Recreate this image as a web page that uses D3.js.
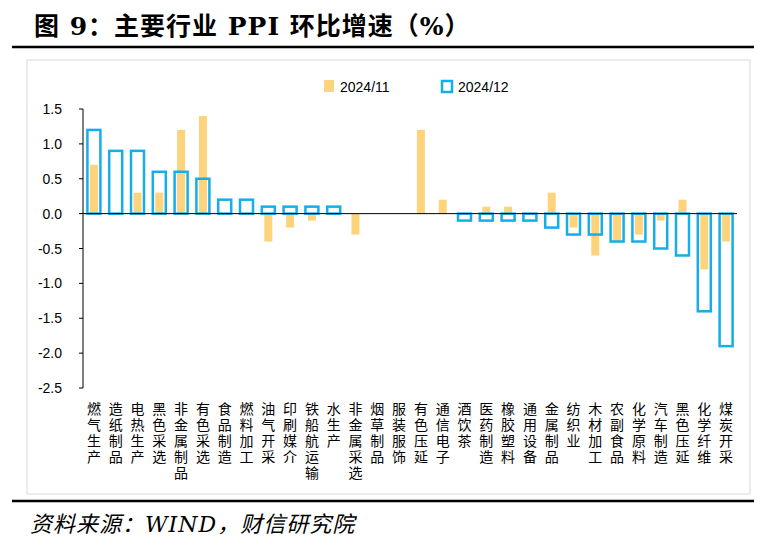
<!DOCTYPE html>
<html><head><meta charset="utf-8">
<script src="https://cdn.jsdelivr.net/npm/d3@7"></script>
<style>body{margin:0;background:#fff}</style>
</head><body>
<script>
// categories and month-on-month PPI values (%)
var categories = ['燃气生产','造纸制品','电热生产','黑色采选','非金属制品','有色采选','食品制造','燃料加工','油气开采','印刷媒介','铁船航运输','水生产','非金属采选','烟草制品','服装服饰','有色压延','通信电子','酒饮茶','医药制造','橡胶塑料','通用设备','金属制品','纺织业','木材加工','农副食品','化学原料','汽车制造','黑色压延','化学纤维','煤炭开采'];
var nov = [0.7,0,0.3,0.3,1.2,1.4,0,0,-0.4,-0.2,-0.1,0,-0.3,0,0,1.2,0.2,0,0.1,0.1,0,0.3,-0.2,-0.6,-0.4,-0.3,-0.1,0.2,-0.8,-0.4];
var dec = [1.2,0.9,0.9,0.6,0.6,0.5,0.2,0.2,0.1,0.1,0.1,0.1,0,0,0,0,0,-0.1,-0.1,-0.1,-0.1,-0.2,-0.3,-0.3,-0.4,-0.4,-0.5,-0.6,-1.4,-1.9];
var yTicks = [1.5,1.0,0.5,0.0,-0.5,-1.0,-1.5,-2.0,-2.5];
var seriesNames = ['2024/11','2024/12'];

var W = 766, H = 546;
var svg = d3.select('body').append('svg').attr('width', W).attr('height', H);
var serif = '"DejaVu Serif","Liberation Serif","Noto Sans CJK SC",serif';

svg.append('text').attr('x', 34).attr('y', 35).attr('font-family', serif)
  .attr('font-weight', 'bold').attr('font-size', 25).attr('letter-spacing', 1).text('图 9：主要行业 PPI 环比增速（%）');
svg.append('line').attr('x1', 12).attr('x2', 754).attr('y1', 47).attr('y2', 47).attr('stroke', '#000').attr('stroke-width', 2.5);
svg.append('line').attr('x1', 12).attr('x2', 754).attr('y1', 501).attr('y2', 501).attr('stroke', '#000').attr('stroke-width', 2.5);
svg.append('rect').attr('x', 27).attr('y', 60).attr('width', 723).attr('height', 434).attr('fill', 'none').attr('stroke', '#d9d9d9');
svg.append('text').attr('x', 30).attr('y', 532).attr('font-family', serif).attr('font-style', 'italic')
  .attr('font-size', 22).attr('letter-spacing', 1).text('资料来源：WIND，财信研究院');

var x = d3.scaleBand().domain(categories).range([83, 737]).paddingInner(0);
var y = d3.scaleLinear().domain([-2.5, 1.5]).range([388, 109]);

var g = svg.append('g');
g.append('line').attr('x1', 83).attr('x2', 83).attr('y1', y(1.5)).attr('y2', y(-2.5)).attr('stroke', '#000');
yTicks.forEach(function (t) {
  g.append('line').attr('x1', 79).attr('x2', 83).attr('y1', y(t)).attr('y2', y(t)).attr('stroke', '#000');
  g.append('text').attr('x', 62).attr('y', y(t) + 5).attr('text-anchor', 'end')
    .attr('font-family', '"Liberation Sans",Arial,sans-serif').attr('font-size', 14).text(t.toFixed(1));
});

var bw = x.bandwidth();
g.selectAll('.nov').data(nov).enter().append('rect')
  .attr('x', function (d, i) { return x(categories[i]) + bw / 2 - 4; })
  .attr('width', 8)
  .attr('y', function (d) { return y(Math.max(0, d)); })
  .attr('height', function (d) { return Math.abs(y(d) - y(0)); })
  .attr('fill', '#fdd47c');
g.selectAll('.dec').data(dec).enter().append('rect')
  .attr('x', function (d, i) { return x(categories[i]) + bw / 2 - 6.5; })
  .attr('width', 13)
  .attr('y', function (d) { return y(Math.max(0, d)); })
  .attr('height', function (d) { return Math.abs(y(d) - y(0)); })
  .attr('fill', 'none').attr('stroke', '#14aee8').attr('stroke-width', 2.5);
g.append('line').attr('x1', 83).attr('x2', 737).attr('y1', y(0)).attr('y2', y(0)).attr('stroke', '#000');

categories.forEach(function (c) {
  var t = g.append('text').attr('font-family', '"Noto Sans CJK SC",sans-serif').attr('font-size', 14)
    .attr('text-anchor', 'middle');
  c.split('').forEach(function (ch, j) {
    t.append('tspan').attr('x', x(c) + bw / 2).attr('y', 414 + j * 16).text(ch);
  });
});

// legend
var lg = svg.append('g').attr('font-family', '"Liberation Sans",Arial,sans-serif').attr('font-size', 14);
lg.append('rect').attr('x', 324).attr('y', 80).attr('width', 10).attr('height', 12).attr('fill', '#fdd47c');
lg.append('text').attr('x', 340).attr('y', 92).text(seriesNames[0]);
lg.append('rect').attr('x', 442).attr('y', 81).attr('width', 10).attr('height', 11).attr('fill', 'none')
  .attr('stroke', '#14aee8').attr('stroke-width', 2.5);
lg.append('text').attr('x', 458).attr('y', 92).text(seriesNames[1]);
</script>
</body></html>
